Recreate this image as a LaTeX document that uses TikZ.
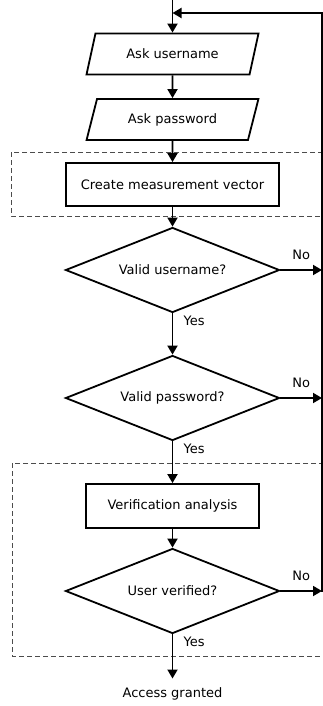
\documentclass[tikz,border=0pt]{standalone}
\usepackage{fontspec}
\setmainfont{DejaVu Sans}
\usetikzlibrary{shapes.geometric, arrows.meta}
\tikzstyle{io} = [trapezium, trapezium left angle=71, trapezium right angle=109, trapezium stretches=true, minimum width=172pt, minimum height=41pt, text centered, draw, line width=1.8pt]
\tikzstyle{process} = [rectangle, minimum width=213pt, minimum height=43pt, text centered, draw, line width=1.8pt]
\tikzstyle{decision} = [diamond, aspect=2.5, inner sep=0pt, minimum width=214pt, minimum height=85pt, text centered, draw, line width=1.8pt]
\tikzstyle{plain} = [inner sep=9pt]
\tikzstyle{lbl} = [right=7pt, pos=0.17]
\tikzstyle{nolbl} = [above=6pt]
\tikzstyle{group} = [draw=black!70, line width=0.8pt, dash pattern=on 5pt off 3pt]
\tikzstyle{line} = [line width=1.8pt, line cap=rect]
\tikzstyle{arrow} = [line width=1.8pt, -{Triangle[length=9pt,width=10pt]}]

\begin{document}
\begin{tikzpicture}[x=1pt, y=-1pt, font=\fontsize{13}{15}\selectfont]
    \useasboundingbox (0,0) rectangle (323,706);

    % dashed groups
    \draw [group] (11,152) rectangle (323,216);
    \draw [group] (12,463) rectangle (323,656);

    \node [io] at (172.5,54) (askuser) {Ask username};
    \node [io] at (172.5,119.5) (askpass) {Ask password};
    \node [process] at (172.5,184.5) (measure) {Create measurement vector};
    \node [decision] at (172.5,270) (validuser) {Valid username?};
    \node [decision] at (172.5,398) (validpass) {Valid password?};
    \node [process, minimum width=173pt, minimum height=44pt] at (172.5,506) (verify) {Verification analysis};
    \node [decision] at (172.5,591) (verified) {User verified?};
    \node [plain] at (172.5,694) (granted) {Access granted};

    \coordinate (entry) at (172.5,0);
    \coordinate (join) at (172.5,13);
    \coordinate (corner) at (322,13);
    \coordinate (no1) at (322,270);
    \coordinate (no2) at (322,398);
    \coordinate (no3) at (322,591);

    \draw [arrow] (entry) -- (askuser);
    \draw [arrow] (askuser) -- (askpass);
    \draw [arrow] (askpass) -- (measure);
    \draw [arrow] (measure) -- (validuser);
    \draw [arrow] (validuser) -- node[lbl] {Yes} (validpass);
    \draw [arrow] (validpass) -- node[lbl] {Yes} (verify);
    \draw [arrow] (verify) -- (verified);
    \draw [arrow] (verified) -- node[lbl] {Yes} (granted);
    \draw [arrow] (validuser) -- node[nolbl] {No} (no1);
    \draw [arrow] (validpass) -- node[nolbl] {No} (no2);
    \draw [arrow] (verified) -- node[nolbl] {No} (no3);
    \draw [line] (no3) -- (corner);
    \draw [arrow] (corner) -- (join);
\end{tikzpicture}
\end{document}
